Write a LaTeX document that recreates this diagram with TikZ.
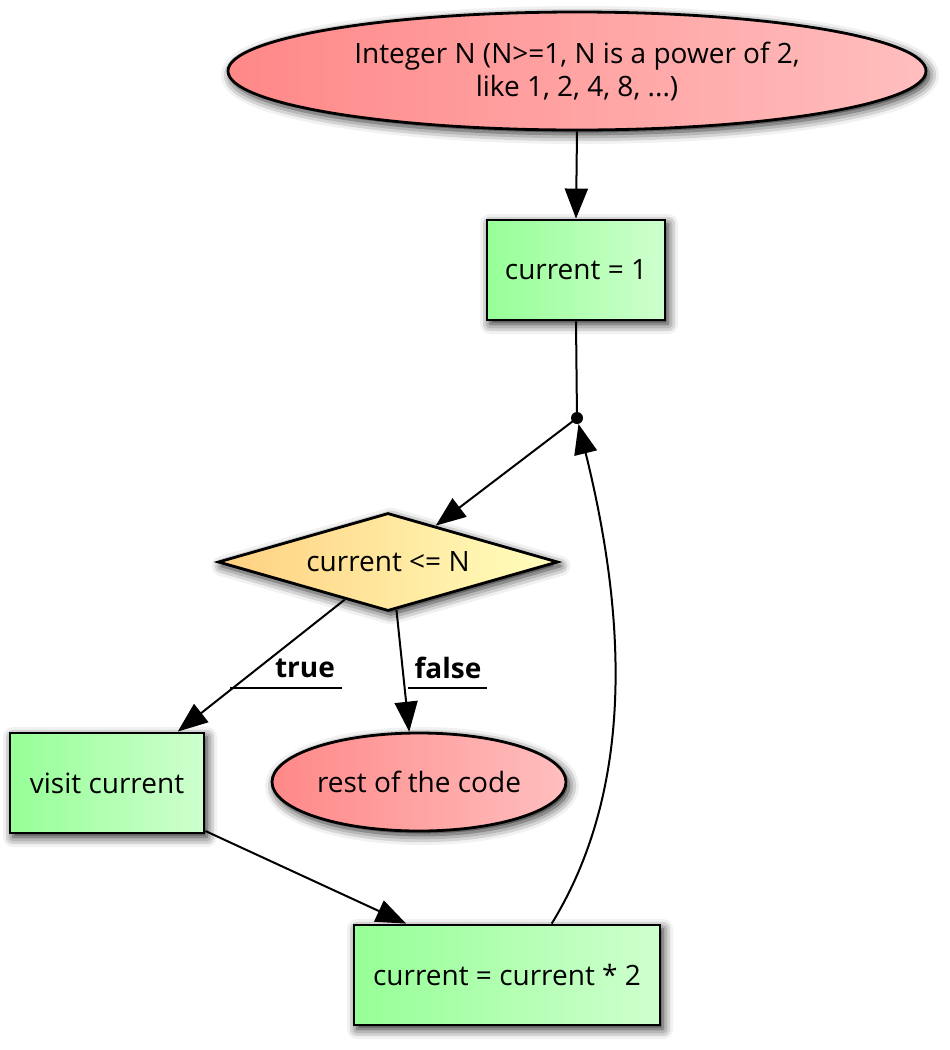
\documentclass[tikz,border=0pt]{standalone}
\usepackage{fontspec}
\setmainfont{Open Sans}
\usetikzlibrary{shapes.geometric,arrows.meta,shadows.blur}
\definecolor{redL}{RGB}{255,136,136}
\definecolor{redR}{RGB}{255,190,190}
\definecolor{grnL}{RGB}{150,255,150}
\definecolor{grnR}{RGB}{206,255,206}
\definecolor{ylwL}{RGB}{255,208,128}
\definecolor{ylwR}{RGB}{255,255,190}
\tikzset{
  base/.style={draw=black, line width=2.8pt, inner sep=0pt,
    font=\fontsize{28}{33}\selectfont, align=center,
    blur shadow={shadow xshift=3pt, shadow yshift=-4pt, shadow blur radius=10pt, shadow opacity=90}},
  redell/.style={base, ellipse, left color=redL, right color=redR},
  grnbox/.style={base, rectangle, left color=grnL, right color=grnR},
  ylwdia/.style={base, diamond, left color=ylwL, right color=ylwR},
  conn/.style={line width=2pt, -{Triangle[length=30pt,width=23pt]}},
  plain/.style={line width=2pt},
  lbl/.style={font=\fontsize{28}{30}\selectfont\bfseries, inner sep=0pt}
}
\begin{document}
\begin{tikzpicture}[x=1pt,y=-1pt]
\useasboundingbox (0,0) rectangle (950,1050);
\node[redell, minimum width=698pt, minimum height=118pt] (start) at (577,71)
  {Integer N (N>=1, N is a power of 2,\\like 1, 2, 4, 8, ...)};
\node[grnbox, minimum width=178pt, minimum height=100pt] (b1) at (576,270) {current = 1};
\node[circle, fill=black, inner sep=0pt, minimum size=12pt] (dot) at (577,418) {};
\node[ylwdia, shape aspect=3.47, minimum width=340pt, minimum height=98pt] (dia) at (388,562) {current <= N};
\node[grnbox, minimum width=194pt, minimum height=100pt] (visit) at (107,783) {visit current};
\node[redell, minimum width=294pt, minimum height=98pt] (rest) at (419,782) {rest of the code};
\node[grnbox, minimum width=306pt, minimum height=100pt] (c2) at (507,975) {current = current * 2};

\node[lbl] (tl) at (305,668) {true};
\node[lbl] (fl) at (448,668) {false};
\coordinate (tua) at (230,688);
\coordinate (tub) at (342,688);
\coordinate (fua) at (408,688);
\coordinate (fub) at (487,688);

\draw[conn] (start.south) -- (b1.north);
\draw[plain] (b1.south) -- (dot.center);
\draw[conn] (dot.center) -- (dia);
\draw[conn] (dia.221) -- (visit.36.3);
\draw[conn] (dia.-80) -- (rest.101);
\draw[conn] (visit.-26) -- (c2.153.9);
\draw[conn] (c2.49.3) .. controls (640,780) and (622,600) .. (dot);
\draw[plain] (tua) -- (tub);
\draw[plain] (fua) -- (fub);
\end{tikzpicture}
\end{document}
